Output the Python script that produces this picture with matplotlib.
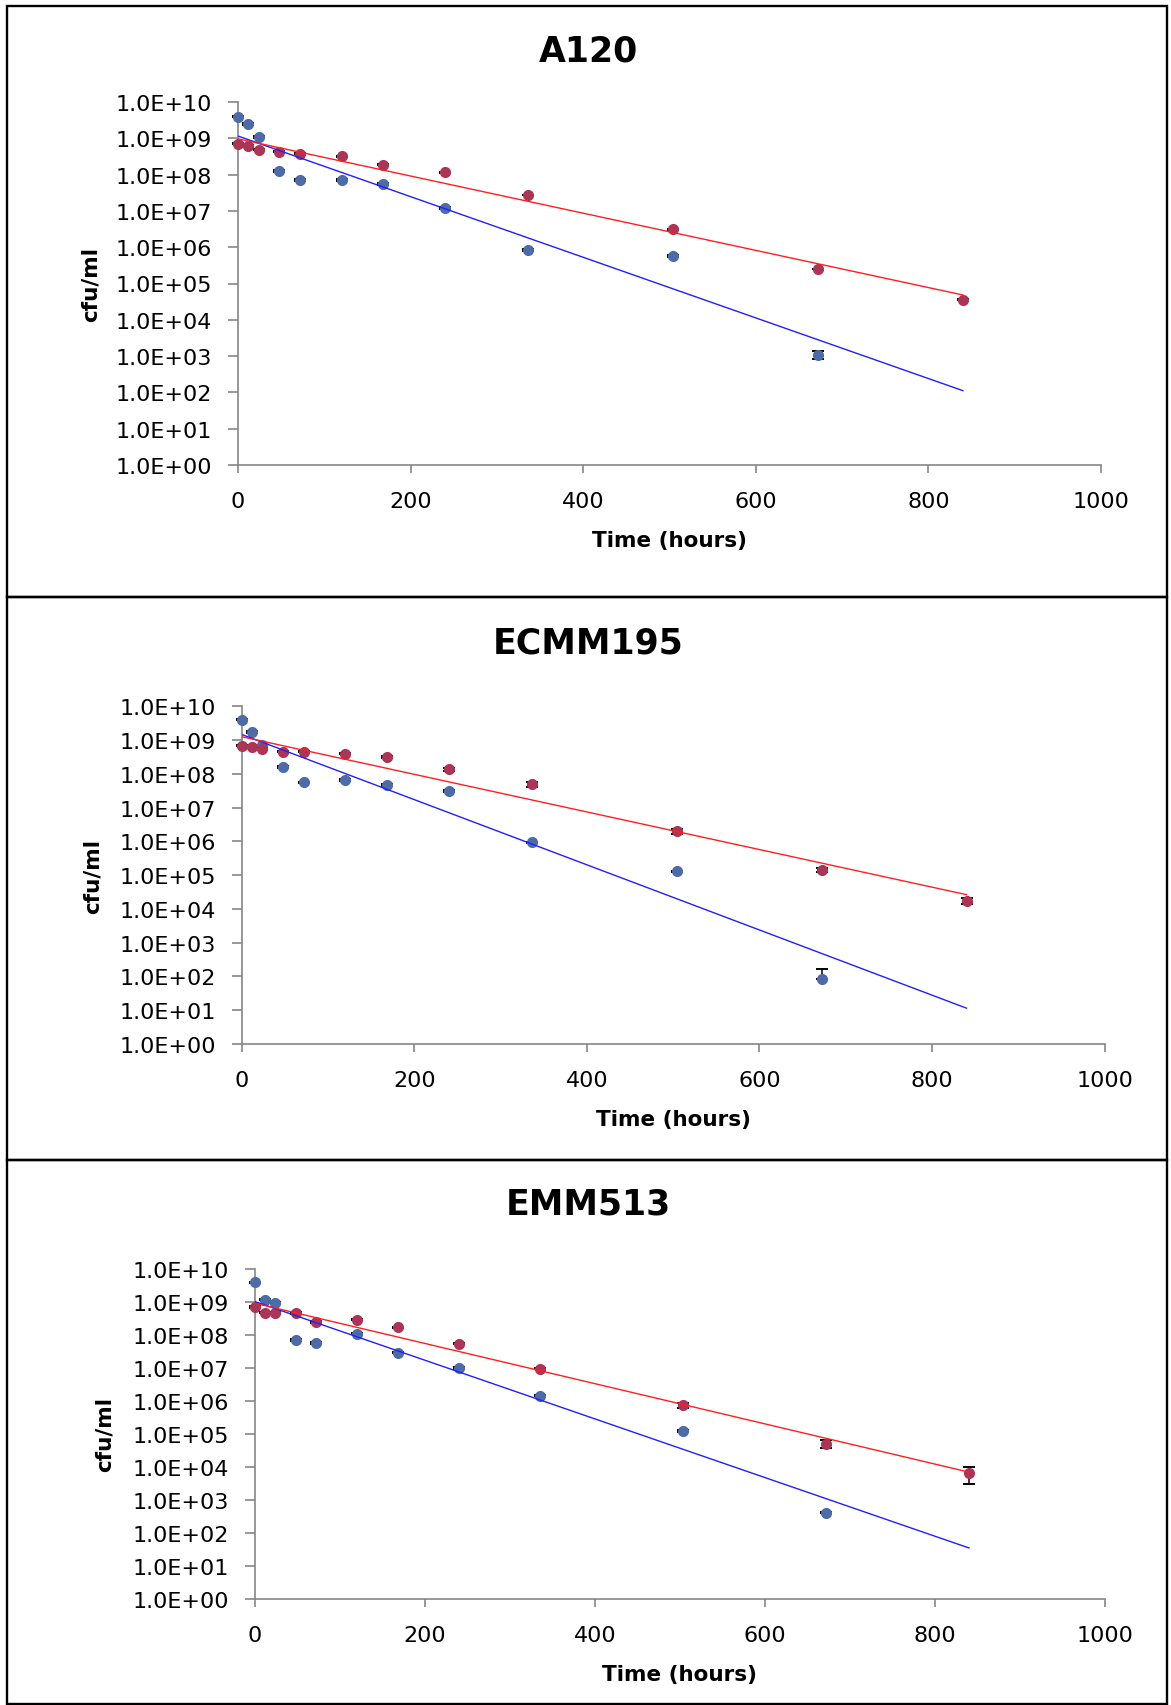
import numpy as np
import matplotlib
matplotlib.use("Agg")
import matplotlib.pyplot as plt
from matplotlib.patches import Rectangle
from matplotlib.ticker import FixedLocator, NullLocator, FuncFormatter

# ---------------- data ----------------
time = [0, 12, 24, 48, 72, 120, 168, 240, 336, 504, 672, 840]

titles = ["A120", "ECMM195", "EMM513"]

a120_blue = [3.9e9, 2.45e9, 1.07e9, 1.24e8, 7.3e7, 7.0e7, 5.5e7, 1.18e7, 8.3e5, 5.8e5, 1.1e3]
a120_blue_err = [1.5e8, 1.5e8, 6e7, 8e6, 5e6, 5e6, 3e6, 8e5, 4e4, 3e4, 2.6e2]
a120_red = [7.1e8, 6.2e8, 4.9e8, 4.3e8, 3.8e8, 3.2e8, 1.85e8, 1.17e8, 2.75e7, 3.1e6, 2.5e5, 3.6e4]
a120_red_err = [2e7, 2e7, 1.5e7, 1.2e7, 1e7, 8e6, 5e6, 3e6, 8e5, 8e4, 6e3, 1e3]

ecmm195_blue = [4.0e9, 1.75e9, 7.0e8, 1.6e8, 5.7e7, 6.6e7, 4.7e7, 3.1e7, 9.5e5, 1.3e5, 85]
ecmm195_blue_err = [1.5e8, 8e7, 3e7, 6e6, 2e6, 3e6, 2e6, 1.5e6, 4e4, 5e3, 85]
ecmm195_red = [6.8e8, 6.3e8, 5.6e8, 4.6e8, 4.6e8, 4.0e8, 3.2e8, 1.35e8, 4.9e7, 1.96e6, 1.4e5, 1.7e4]
ecmm195_red_err = [3e7, 3e7, 3e7, 2e7, 2e7, 2e7, 1.5e7, 1e7, 7e6, 3.5e5, 2e4, 3.4e3]

emm513_blue = [4.0e9, 1.17e9, 9.5e8, 7.0e7, 5.8e7, 1.1e8, 2.9e7, 1.0e7, 1.45e6, 1.23e5, 4.1e2]
emm513_blue_err = [1.5e8, 5e7, 4e7, 3e6, 3e6, 5e6, 1.5e6, 5e5, 8e4, 6e3, 2e1]
emm513_red = [7.0e8, 4.7e8, 4.6e8, 4.6e8, 2.5e8, 2.9e8, 1.7e8, 5.5e7, 9.5e6, 7.6e5, 5.1e4, 6.4e3]
emm513_red_err = [3e7, 2e7, 2e7, 2e7, 1.2e7, 1.5e7, 1e7, 3e6, 5e5, 1.3e5, 1.4e4, 3.4e3]

y_ticks = [1e0, 1e1, 1e2, 1e3, 1e4, 1e5, 1e6, 1e7, 1e8, 1e9, 1e10]
x_ticks = [0, 200, 400, 600, 800, 1000]

panels = [
    (a120_blue, a120_blue_err, a120_red, a120_red_err),
    (ecmm195_blue, ecmm195_blue_err, ecmm195_red, ecmm195_red_err),
    (emm513_blue, emm513_blue_err, emm513_red, emm513_red_err),
]

# ---------------- layout (pixels in a 1171 x 1706 canvas) ----------------
W, H = 1171, 1706
axes_px = [  # left, right, top(1E10), bottom(1E0)
    (238, 1101, 103, 466),
    (241.6, 1104.6, 707.4, 1044.8),
    (254.7, 1105, 1270, 1599.8),
]
border_px = [(6.5, 1167, 6.5, 598), (6.5, 1167, 598, 1161), (6.5, 1167, 1161, 1705)]
title_px = [(588, 52), (588, 643), (588, 1205)]

blue_c = "#4d6ba6"
red_c = "#ab3556"
axis_c = "#868686"

fig = plt.figure(figsize=(W / 100, H / 100), dpi=100)

for (l, r, t, b) in border_px:
    fig.patches.append(Rectangle((l / W, 1 - b / H), (r - l) / W, (b - t) / H,
                                 transform=fig.transFigure, fill=False,
                                 edgecolor="black", linewidth=1.7, zorder=0))

for i, (blue, blue_err, red, red_err) in enumerate(panels):
    l, r, t, b = axes_px[i]
    ax = fig.add_axes([l / W, 1 - b / H, (r - l) / W, (b - t) / H])
    ax.set_yscale("log")
    ax.set_xlim(0, 1000)
    ax.set_ylim(1, 1e10)

    for vals, errs, col in ((blue, blue_err, blue_c), (red, red_err, red_c)):
        tt = np.array(time[:len(vals)], dtype=float)
        v = np.array(vals, dtype=float)
        e = np.array(errs, dtype=float)
        lo = np.where(e >= v, 0.0, e)
        ax.errorbar(tt, v, yerr=[lo, e], fmt="o", color=col, mec=col,
                    markersize=7, ecolor="black", elinewidth=1.1,
                    capsize=4.6, capthick=1.4, clip_on=False, zorder=3)

    for vals, lc in ((blue, "#1f1fff"), (red, "#ff1f1f")):
        tt = np.array(time[:len(vals)], dtype=float)
        coef = np.polyfit(tt, np.log10(vals), 1)
        tl = np.array([time[0], time[-1]], dtype=float)
        ax.plot(tl, 10 ** np.polyval(coef, tl), color=lc, lw=1.0, zorder=4)

    for s in ("top", "right"):
        ax.spines[s].set_visible(False)
    for s in ("left", "bottom"):
        ax.spines[s].set_color(axis_c)
        ax.spines[s].set_linewidth(1.2)

    ax.yaxis.set_major_locator(FixedLocator(y_ticks))
    ax.yaxis.set_minor_locator(NullLocator())
    ax.yaxis.set_major_formatter(FuncFormatter(lambda v, p: f"{v:.1E}"))
    ax.xaxis.set_major_locator(FixedLocator(x_ticks))
    ax.tick_params(axis="y", direction="out", length=7.5, width=1.2,
                   color=axis_c, labelsize=16, pad=11, labelcolor="black")
    ax.tick_params(axis="x", direction="out", length=6, width=1.2,
                   color=axis_c, labelsize=16, pad=13, labelcolor="black")

    ax.set_xlabel("Time (hours)", fontsize=15.5, fontweight="bold")
    ax.xaxis.label.set_va("center")
    ax.xaxis.set_label_coords(0.5, -75 / (b - t))
    ax.set_ylabel("cfu/ml", fontsize=15.5, fontweight="bold")
    ax.yaxis.label.set_va("center")
    ax.yaxis.set_label_coords(-(l - [90.3, 92.5, 104.5][i]) / (r - l), 0.5)

    tx, ty = title_px[i]
    fig.text(tx / W, 1 - ty / H, titles[i], fontsize=25, fontweight="bold",
             ha="center", va="center")

fig.savefig("out.png", dpi=100)
